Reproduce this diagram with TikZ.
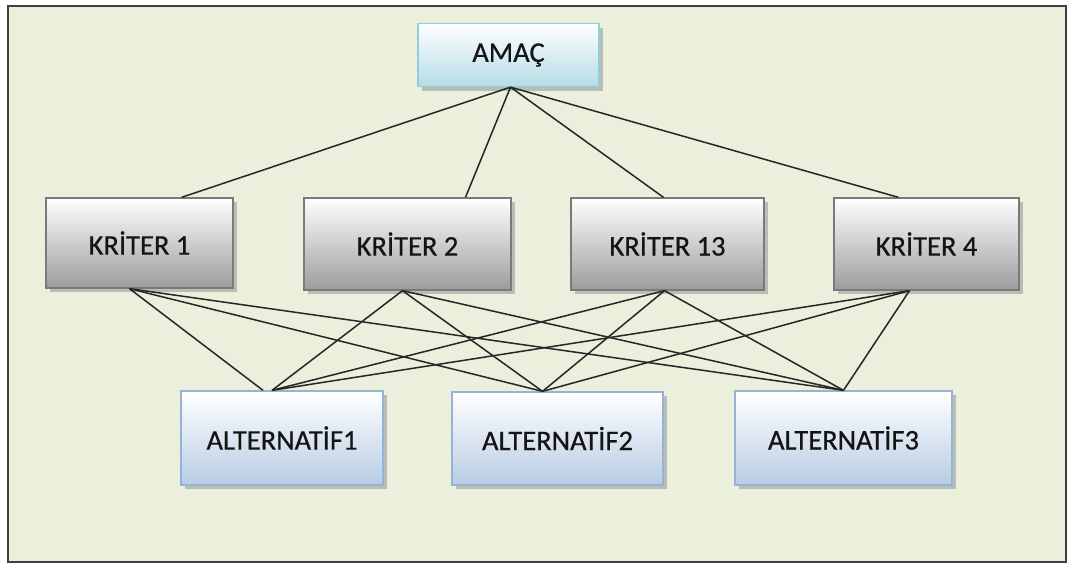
\documentclass[tikz,border=0pt]{standalone}
\usepackage{fontspec}
\setmainfont{Carlito}
\newfontfamily\boxfont{Carlito}[FakeBold=0.6]
\definecolor{bgc}{HTML}{EAF0DC}
\definecolor{amacB}{HTML}{B4DCE6}
\definecolor{amacD}{HTML}{92CDDC}
\definecolor{kritB}{HTML}{9C9C9C}
\definecolor{kritD}{HTML}{7A7A7A}
\definecolor{altB}{HTML}{B8CCE4}
\definecolor{altD}{HTML}{95B3D7}
\definecolor{txt}{HTML}{141414}
\begin{document}
\begin{tikzpicture}[x=1pt,y=-1pt,
  boxbase/.style={rectangle, line width=1.3pt, text=txt,
    font=\boxfont\fontsize{28.5}{32}\selectfont, inner sep=0pt,
    preaction={fill=black!35, opacity=0.7, transform canvas={xshift=4pt,yshift=-4pt}}},
  amacbox/.style={boxbase, draw=amacD, top color=white, bottom color=amacB},
  kritbox/.style={boxbase, draw=kritD, top color=white, bottom color=kritB},
  altbox/.style={boxbase, draw=altD, top color=white, bottom color=altB},
  link/.style={draw=black!85, line width=1.5pt}]
\useasboundingbox (0,0) rectangle (1069,563);
\fill[white] (0,0) rectangle (1069,563);
\draw[fill=bgc, draw=black!75, line width=1.6pt] (8,6) rectangle (1066,562);

\node[amacbox, minimum width=181pt, minimum height=63pt] (amac) at (508.5,55) {AMAÇ};

\node[kritbox, minimum width=187pt, minimum height=90pt] (k1) at (139.5,243) {KRİTER 1};
\node[kritbox, minimum width=207pt, minimum height=92pt] (k2) at (407.5,244) {KRİTER 2};
\node[kritbox, minimum width=193pt, minimum height=92pt] (k3) at (667.5,244) {KRİTER 13};
\node[kritbox, minimum width=185pt, minimum height=92pt] (k4) at (926.5,244) {KRİTER 4};

\node[altbox, minimum width=202pt, minimum height=94pt] (a1) at (282,438) {ALTERNATİF1};
\node[altbox, minimum width=211pt, minimum height=93pt] (a2) at (557.5,438.5) {ALTERNATİF2};
\node[altbox, minimum width=217pt, minimum height=94pt] (a3) at (843.5,438) {ALTERNATİF3};

% anchor points
\coordinate (am) at ([xshift=2pt]amac.south);
\coordinate (k1t) at ([xshift=42pt]k1.north);
\coordinate (k2t) at ([xshift=58pt]k2.north);
\coordinate (k3t) at ([xshift=-4pt]k3.north);
\coordinate (k4t) at ([xshift=-28pt]k4.north);
\coordinate (k1b) at ([xshift=-10pt]k1.south);
\coordinate (k2b) at ([xshift=-5pt]k2.south);
\coordinate (k3b) at ([xshift=-3pt]k3.south);
\coordinate (k4b) at ([xshift=-17pt]k4.south);
\coordinate (a1t) at ([xshift=-10pt]a1.north);
\coordinate (a1tl) at ([xshift=-19pt]a1.north);
\coordinate (a2t) at ([xshift=-15pt]a2.north);
\coordinate (a3t) at ([xshift=0pt]a3.north);

\draw[link] (am) -- (k1t);
\draw[link] (am) -- (k2t);
\draw[link] (am) -- (k3t);
\draw[link] (am) -- (k4t);

\foreach \k in {k1b,k2b,k3b,k4b}{
  \draw[link] (\k) -- (a2t);
  \draw[link] (\k) -- (a3t);
}
\draw[link] (k1b) -- (a1tl);
\foreach \k in {k2b,k3b,k4b}{
  \draw[link] (\k) -- (a1t);
}
\end{tikzpicture}
\end{document}
